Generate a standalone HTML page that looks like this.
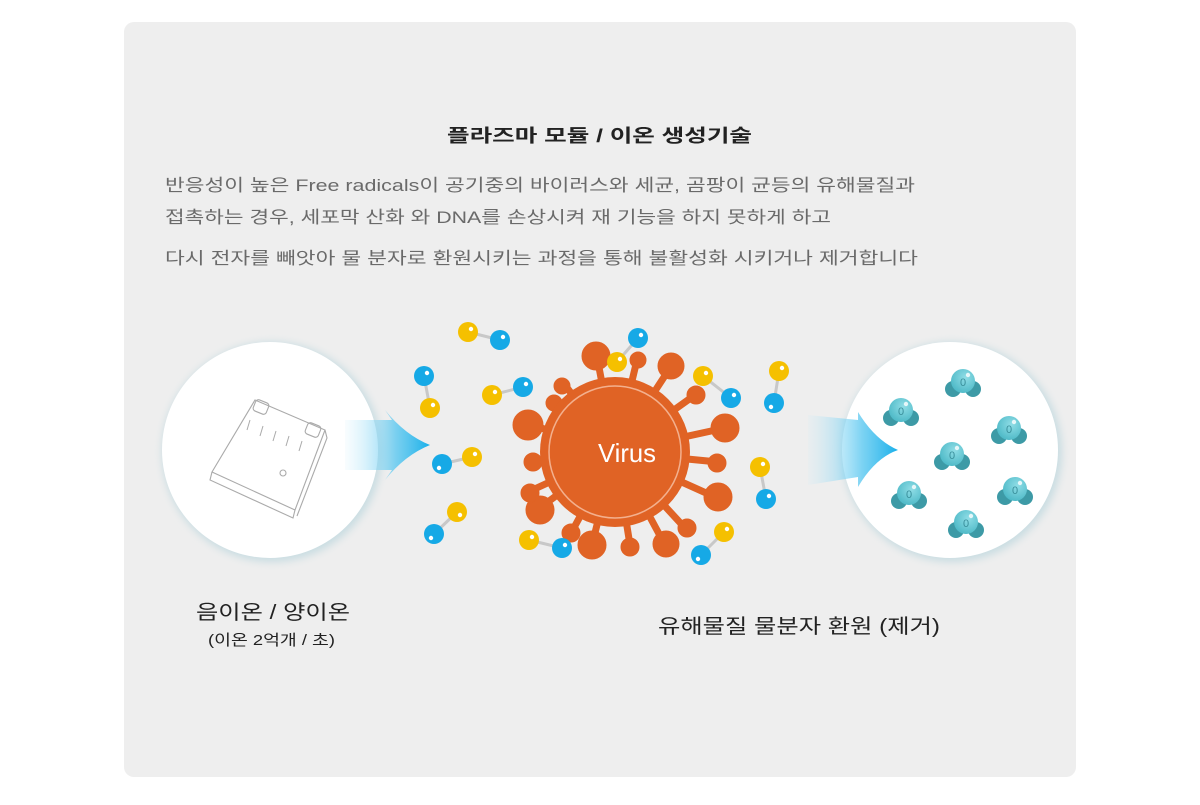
<!DOCTYPE html>
<html><head><meta charset="utf-8"><style>
html,body{margin:0;padding:0;background:#fff;width:1200px;height:805px;overflow:hidden}
svg{display:block}
text{font-family:"Liberation Sans","Noto Sans CJK KR",sans-serif}
</style></head><body>
<svg width="1200" height="805" viewBox="0 0 1200 805" xmlns="http://www.w3.org/2000/svg">
<defs>
<linearGradient id="ar" x1="0" x2="1" y1="0" y2="0">
<stop offset="0" stop-color="#bfe9fa" stop-opacity="0.1"/>
<stop offset="0.6" stop-color="#5cc8f0" stop-opacity="0.8"/>
<stop offset="1" stop-color="#1ab0ea"/>
</linearGradient>
<radialGradient id="mol" cx="0.6" cy="0.35" r="0.7">
<stop offset="0" stop-color="#8fdde6"/><stop offset="1" stop-color="#4cb8c6"/>
</radialGradient>
<filter id="sh" x="-20%" y="-20%" width="140%" height="140%"><feGaussianBlur stdDeviation="4"/></filter>
<g id="w">
<circle cx="-10" cy="6" r="8" fill="#3d9aa6"/>
<circle cx="10" cy="6" r="8" fill="#3d9aa6"/>
<circle cx="0" cy="-2" r="12" fill="url(#mol)"/>
<circle cx="5" cy="-8" r="2.2" fill="#fff" opacity="0.8"/>
<text x="0" y="3" font-size="11" text-anchor="middle" fill="#3a8f9b">0</text>
</g>
</defs>
<rect x="0" y="0" width="1200" height="805" fill="#fff"/>
<rect x="124" y="22" width="952" height="755" rx="10" fill="#eeeeee"/>

<text x="447" y="142" font-size="18" font-weight="bold" fill="#222" textLength="305" lengthAdjust="spacingAndGlyphs">플라즈마 모듈 / 이온 생성기술</text>
<g font-size="17" fill="#6a6a6a">
<text x="165" y="191" textLength="750" lengthAdjust="spacingAndGlyphs">반응성이 높은 Free radicals이 공기중의 바이러스와 세균, 곰팡이 균등의 유해물질과</text>
<text x="165" y="223" textLength="666" lengthAdjust="spacingAndGlyphs">접촉하는 경우, 세포막 산화 와 DNA를 손상시켜 재 기능을 하지 못하게 하고</text>
<text x="165" y="264" textLength="753" lengthAdjust="spacingAndGlyphs">다시 전자를 빼앗아 물 분자로 환원시키는 과정을 통해 불활성화 시키거나 제거합니다</text>
</g>

<!-- left circle -->
<circle cx="272" cy="452" r="110" fill="#c9dde2" filter="url(#sh)"/>
<circle cx="270" cy="450" r="108" fill="#fff"/>
<g fill="none" stroke="#aaa" stroke-width="1.1">
<path d="M255 400 L325 430 L295 510 L212 472 Z"/>
<path d="M212 472 L210 480 L293 518 L295 510"/>
<path d="M325 430 L327 438 L297 516"/>
<rect x="254" y="401" width="14" height="12" rx="3" transform="rotate(22 261 407)"/>
<rect x="306" y="424" width="14" height="12" rx="3" transform="rotate(22 313 430)"/>
<g stroke-width="1"><path d="M250 420 l-3 10 M263 426 l-3 10 M276 431 l-3 10 M289 436 l-3 10 M302 441 l-3 10"/></g>
<circle cx="283" cy="473" r="3"/>
</g>
<!-- left arrow -->
<path d="M345 420 L392 420 L385 410 Q405 435 430 445 Q405 455 385 480 L392 470 L345 470 Z" fill="url(#ar)"/>

<!-- right circle -->
<circle cx="952" cy="452" r="110" fill="#c9dde2" filter="url(#sh)"/>
<circle cx="950" cy="450" r="108" fill="#fff"/>
<path d="M808 415 L858 420 L858 412 Q875 440 898 450 Q875 458 858 487 L858 477 L808 485 Z" fill="url(#ar)"/>
<use href="#w" x="963" y="383"/>
<use href="#w" x="901" y="412"/>
<use href="#w" x="1009" y="430"/>
<use href="#w" x="952" y="456"/>
<use href="#w" x="909" y="495"/>
<use href="#w" x="1015" y="491"/>
<use href="#w" x="966" y="524"/>

<!-- virus -->
<g fill="#e06325" stroke="#e06325" stroke-linecap="round">
<g stroke-width="7">
<line x1="615" y1="452" x2="598" y2="362"/><line x1="615" y1="452" x2="637" y2="360"/><line x1="615" y1="452" x2="670" y2="368"/>
<line x1="615" y1="452" x2="695" y2="395"/><line x1="615" y1="452" x2="725" y2="428"/><line x1="615" y1="452" x2="718" y2="462"/>
<line x1="615" y1="452" x2="715" y2="497"/><line x1="615" y1="452" x2="685" y2="528"/><line x1="615" y1="452" x2="665" y2="545"/>
<line x1="615" y1="452" x2="630" y2="545"/><line x1="615" y1="452" x2="592" y2="545"/><line x1="615" y1="452" x2="570" y2="535"/>
<line x1="615" y1="452" x2="537" y2="510"/><line x1="615" y1="452" x2="528" y2="492"/><line x1="615" y1="452" x2="538" y2="463"/>
<line x1="615" y1="452" x2="532" y2="425"/><line x1="615" y1="452" x2="553" y2="403"/><line x1="615" y1="452" x2="565" y2="385"/>
</g>
<circle cx="596" cy="356" r="14"/><circle cx="638" cy="360" r="8"/><circle cx="671" cy="366" r="13"/>
<circle cx="696" cy="395" r="9"/><circle cx="725" cy="428" r="14"/><circle cx="717" cy="463" r="9"/>
<circle cx="718" cy="497" r="14"/><circle cx="687" cy="528" r="9"/><circle cx="666" cy="544" r="13"/>
<circle cx="630" cy="547" r="9"/><circle cx="592" cy="545" r="14"/><circle cx="571" cy="533" r="9"/>
<circle cx="540" cy="510" r="14"/><circle cx="530" cy="493" r="9"/><circle cx="533" cy="462" r="9"/>
<circle cx="528" cy="425" r="15"/><circle cx="554" cy="403" r="8"/><circle cx="562" cy="386" r="8"/>
<circle cx="615" cy="452" r="75" stroke="none"/>
</g>
<circle cx="615" cy="452" r="66" fill="none" stroke="#f3b08e" stroke-width="1.5"/>
<text x="627" y="462" font-size="26" fill="#fff" text-anchor="middle" textLength="58" lengthAdjust="spacingAndGlyphs">Virus</text>

<!-- molecules -->
<g stroke="#c8c8c8" stroke-width="3">
<line x1="468" y1="332" x2="500" y2="340"/><line x1="424" y1="376" x2="430" y2="408"/><line x1="492" y1="395" x2="523" y2="387"/>
<line x1="442" y1="464" x2="472" y2="457"/><line x1="457" y1="512" x2="434" y2="534"/><line x1="529" y1="540" x2="562" y2="548"/>
<line x1="638" y1="338" x2="617" y2="362"/><line x1="703" y1="376" x2="731" y2="398"/><line x1="779" y1="371" x2="774" y2="403"/>
<line x1="760" y1="467" x2="766" y2="499"/><line x1="724" y1="532" x2="701" y2="555"/>
</g>
<g fill="#f5c000">
<circle cx="468" cy="332" r="10"/><circle cx="430" cy="408" r="10"/><circle cx="492" cy="395" r="10"/><circle cx="472" cy="457" r="10"/>
<circle cx="457" cy="512" r="10"/><circle cx="529" cy="540" r="10"/><circle cx="617" cy="362" r="10"/><circle cx="703" cy="376" r="10"/>
<circle cx="779" cy="371" r="10"/><circle cx="760" cy="467" r="10"/><circle cx="724" cy="532" r="10"/>
</g>
<g fill="#16a9e6">
<circle cx="500" cy="340" r="10"/><circle cx="424" cy="376" r="10"/><circle cx="523" cy="387" r="10"/><circle cx="442" cy="464" r="10"/>
<circle cx="434" cy="534" r="10"/><circle cx="562" cy="548" r="10"/><circle cx="638" cy="338" r="10"/><circle cx="731" cy="398" r="10"/>
<circle cx="774" cy="403" r="10"/><circle cx="766" cy="499" r="10"/><circle cx="701" cy="555" r="10"/>
</g>
<g fill="#fff">
<circle cx="471" cy="329" r="2.2"/><circle cx="503" cy="337" r="2.2"/><circle cx="427" cy="373" r="2.2"/><circle cx="433" cy="405" r="2.2"/>
<circle cx="495" cy="392" r="2.2"/><circle cx="526" cy="384" r="2.2"/><circle cx="439" cy="468" r="2.2"/><circle cx="475" cy="454" r="2.2"/>
<circle cx="460" cy="515" r="2.2"/><circle cx="431" cy="538" r="2.2"/><circle cx="532" cy="537" r="2.2"/><circle cx="565" cy="545" r="2.2"/>
<circle cx="641" cy="335" r="2.2"/><circle cx="620" cy="359" r="2.2"/><circle cx="706" cy="373" r="2.2"/><circle cx="734" cy="395" r="2.2"/>
<circle cx="782" cy="368" r="2.2"/><circle cx="771" cy="407" r="2.2"/><circle cx="763" cy="464" r="2.2"/><circle cx="769" cy="496" r="2.2"/>
<circle cx="727" cy="529" r="2.2"/><circle cx="698" cy="559" r="2.2"/>
</g>

<text x="196" y="619" font-size="20" fill="#222" textLength="154" lengthAdjust="spacingAndGlyphs">음이온 / 양이온</text>
<text x="208" y="645" font-size="15" fill="#222" textLength="127" lengthAdjust="spacingAndGlyphs">(이온 2억개 / 초)</text>
<text x="658" y="633" font-size="20" fill="#222" textLength="282" lengthAdjust="spacingAndGlyphs">유해물질 물분자 환원 (제거)</text>
</svg>
</body></html>
